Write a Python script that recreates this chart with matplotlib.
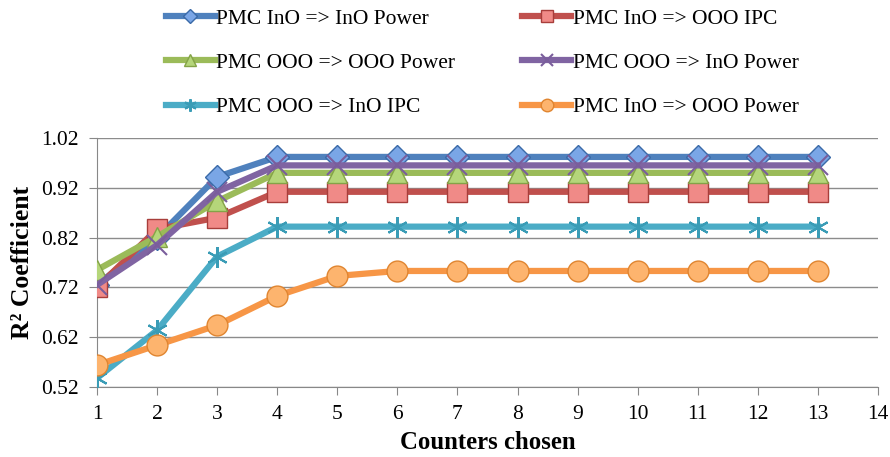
import matplotlib
matplotlib.use("Agg")
import matplotlib.pyplot as plt

plt.rcParams['font.family'] = ['Liberation Serif', 'DejaVu Serif']

counters = list(range(1, 14))
ino_ino_power = [0.725, 0.82, 0.942, 0.982, 0.982, 0.982, 0.982, 0.982, 0.982, 0.982, 0.982, 0.982, 0.982]
ino_ooo_ipc = [0.72, 0.837, 0.86, 0.912, 0.912, 0.912, 0.912, 0.912, 0.912, 0.912, 0.912, 0.912, 0.912]
ooo_ooo_power = [0.755, 0.822, 0.893, 0.95, 0.95, 0.95, 0.95, 0.95, 0.95, 0.95, 0.95, 0.95, 0.95]
ooo_ino_power = [0.725, 0.805, 0.912, 0.965, 0.965, 0.965, 0.965, 0.965, 0.965, 0.965, 0.965, 0.965, 0.965]
ooo_ino_ipc = [0.538, 0.634, 0.782, 0.842, 0.842, 0.842, 0.842, 0.842, 0.842, 0.842, 0.842, 0.842, 0.842]
ino_ooo_power = [0.564, 0.604, 0.644, 0.703, 0.743, 0.753, 0.753, 0.753, 0.753, 0.753, 0.753, 0.753, 0.753]

labels = ["PMC InO => InO Power", "PMC InO => OOO IPC",
          "PMC OOO => OOO Power", "PMC OOO => InO Power",
          "PMC OOO => InO IPC", "PMC InO => OOO Power"]
yticks = [0.52, 0.62, 0.72, 0.82, 0.92, 1.02]
xticks = list(range(1, 15))

series = [ino_ino_power, ino_ooo_ipc, ooo_ooo_power, ooo_ino_power, ooo_ino_ipc, ino_ooo_power]
styles = [
    dict(color='#4F81BD', marker='D', mfc='#7AA6E6', mec='#3A6AA8', ms=12, mew=1.0),
    dict(color='#C0504D', marker='s', mfc='#F08A87', mec='#A83E3B', ms=14, mew=1.0),
    dict(color='#9BBB59', marker='^', mfc='#B5D67A', mec='#84A347', ms=14, mew=1.0),
    dict(color='#8064A2', marker='x', mfc='#8064A2', mec='#7A5E9C', ms=14, mew=1.5),
    dict(color='#4BACC6', marker=(6, 2, 0), mfc='#4BACC6', mec='#3A9CB6', ms=15, mew=1.5),
    dict(color='#F79646', marker='o', mfc='#FDB46E', mec='#E08530', ms=15, mew=1.0),
]

fig = plt.figure(figsize=(8.9, 4.57), dpi=100)
ax = fig.add_axes([97/890, 1 - 387/457, (878-97)/890, (387-138)/457])

handles = []
for vals, st, lab in zip(series, styles, labels):
    h, = ax.plot(counters, vals, lw=4.5, label=lab, zorder=3, **st)
    handles.append(h)

ax.set_xlim(1, 14)
ax.set_ylim(0.52, 1.02)
ax.set_xticks(xticks)
ax.set_yticks(yticks)
ax.set_yticklabels([f"{v:.2f}" for v in yticks])
ax.tick_params(axis='both', labelsize=15.5, color='#888888', direction='out', length=6)
ax.tick_params(axis='x', pad=7)
ax.tick_params(axis='y', pad=7)
ax.yaxis.grid(True, color='#8C8C8C', lw=1)
ax.set_axisbelow(True)
for s in ['top', 'right']:
    ax.spines[s].set_visible(False)
for s in ['left', 'bottom']:
    ax.spines[s].set_color('#888888')
ax.set_xlabel("Counters chosen", fontsize=17.8, fontweight='bold', labelpad=5)
ax.set_ylabel("R² Coefficient", fontsize=18.5, fontweight='bold', labelpad=5)

# legend: row-wise order in two columns
order = [0, 2, 4, 1, 3, 5]
leg = fig.legend(handles=[handles[i] for i in order], loc='upper left',
                 bbox_to_anchor=(157/890, 1.0),
                 ncol=2, frameon=False, fontsize=15.5, handlelength=2.3,
                 handletextpad=0.05, columnspacing=3.1, labelspacing=1.12,
                 markerscale=0.6, borderaxespad=0.0)

fig.savefig("out.png", dpi=100)
